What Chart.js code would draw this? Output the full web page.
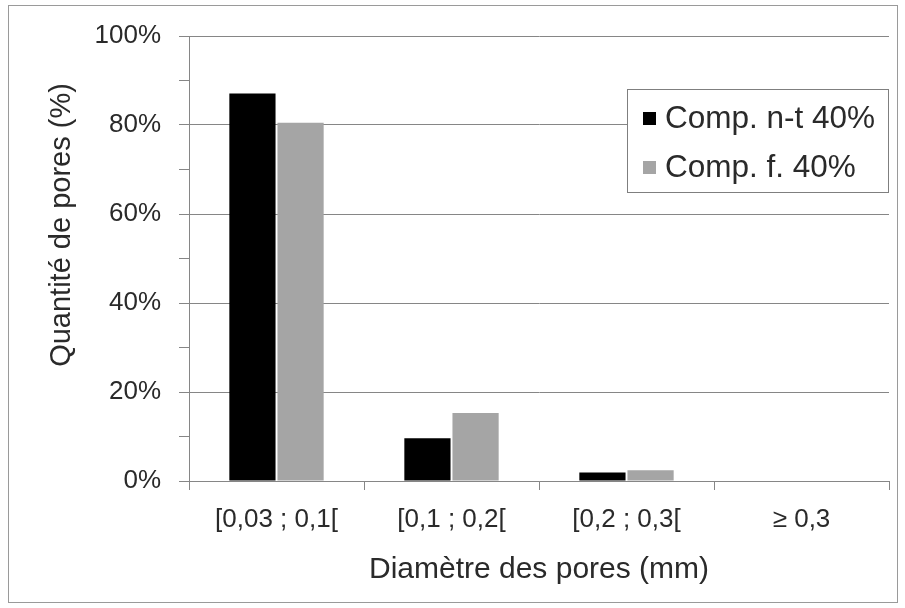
<!DOCTYPE html>
<html>
<head>
<meta charset="utf-8">
<script src="https://cdn.jsdelivr.net/npm/chart.js@4/dist/chart.umd.min.js"></script>
<style>
  body { margin: 0; background: #fff; }
  canvas { display: block; }
</style>
</head>
<body>
<canvas id="c" width="905" height="608"></canvas>
<script>
const categories = ['[0,03 ; 0,1[', '[0,1 ; 0,2[', '[0,2 ; 0,3[', '\u2265 0,3'];
const seriesNames = ['Comp. n-t 40%', 'Comp. f. 40%'];
const ntValues = [87.1, 9.6, 1.9, 0];
const fValues = [80.5, 15.3, 2.4, 0];
const yTitle = 'Quantité de pores (%)';
const xTitle = 'Diamètre des pores (mm)';

const FONT = '"Liberation Sans", Arial, sans-serif';
const TEXT = '#2a2a2a';
const GRID = '#868686';

// frame around the whole picture + white background
const framePlugin = {
    id: 'frame',
    beforeDraw(chart) {
        const ctx = chart.ctx;
        ctx.save();
        ctx.fillStyle = '#fff';
        ctx.fillRect(0, 0, chart.width, chart.height);
        ctx.strokeStyle = '#9a9a9a';
        ctx.lineWidth = 1;
        ctx.strokeRect(8.5, 5.5, 889, 597);
        ctx.restore();
    }
};

// y title (Excel puts it a bit above the middle) and the boxed legend
const extrasPlugin = {
    id: 'extras',
    afterDraw(chart) {
        const ctx = chart.ctx;
        ctx.save();
        ctx.translate(62, 225);
        ctx.rotate(-Math.PI / 2);
        ctx.font = '29px ' + FONT;
        ctx.fillStyle = TEXT;
        ctx.textAlign = 'center';
        ctx.textBaseline = 'middle';
        ctx.fillText(yTitle, 0, 0);
        ctx.restore();

        // legend
        ctx.save();
        ctx.fillStyle = '#fff';
        ctx.fillRect(627, 89, 262, 103);
        ctx.strokeStyle = '#7f7f7f';
        ctx.lineWidth = 1;
        ctx.strokeRect(627.5, 89.5, 261, 103);
        ctx.font = '31.5px ' + FONT;
        ctx.textBaseline = 'middle';
        chart.data.datasets.forEach((ds, i) => {
            const y = 118 + i * 49;
            ctx.fillStyle = ds.backgroundColor;
            ctx.fillRect(643, y - 6, 13, 13);
            ctx.fillStyle = TEXT;
            ctx.fillText(ds.label, 665, y + 1);
        });
        ctx.restore();
    }
};

new Chart(document.getElementById('c'), {
    type: 'bar',
    data: {
        labels: categories,
        datasets: [
            { label: seriesNames[0], data: ntValues, backgroundColor: '#000000' },
            { label: seriesNames[1], data: fValues, backgroundColor: '#a5a5a5' }
        ]
    },
    options: {
        responsive: false,
        animation: false,
        layout: { padding: { left: 10, right: 16, top: 36, bottom: 10 } },
        datasets: { bar: { categoryPercentage: 0.55, barPercentage: 0.96 } },
        plugins: {
            legend: { display: false },
            tooltip: { enabled: false }
        },
        scales: {
            x: {
                grid: {
                    drawOnChartArea: false,
                    tickLength: 9,
                    tickColor: GRID,
                    offset: true
                },
                border: { color: GRID },
                ticks: {
                    color: TEXT,
                    font: { family: FONT, size: 26 },
                    padding: 14,
                    maxRotation: 0
                },
                title: {
                    display: true,
                    text: xTitle,
                    color: TEXT,
                    font: { family: FONT, size: 30 },
                    padding: { top: 0, bottom: 10 }
                },
                afterFit(scale) { scale.height = 117; }
            },
            y: {
                min: 0,
                max: 100,
                grid: {
                    color: (c) => (c.tick && c.tick.value % 20 === 0 ? GRID : 'rgba(0,0,0,0)'),
                    tickColor: GRID,
                    tickLength: 10
                },
                border: { color: GRID },
                ticks: {
                    stepSize: 10,
                    color: TEXT,
                    font: { family: FONT, size: 26 },
                    padding: 18,
                    callback: (v) => (v % 20 === 0 ? v + '%' : '')
                },
                afterFit(scale) { scale.width = 179; }
            }
        }
    },
    plugins: [framePlugin, extrasPlugin]
});
</script>
</body>
</html>
